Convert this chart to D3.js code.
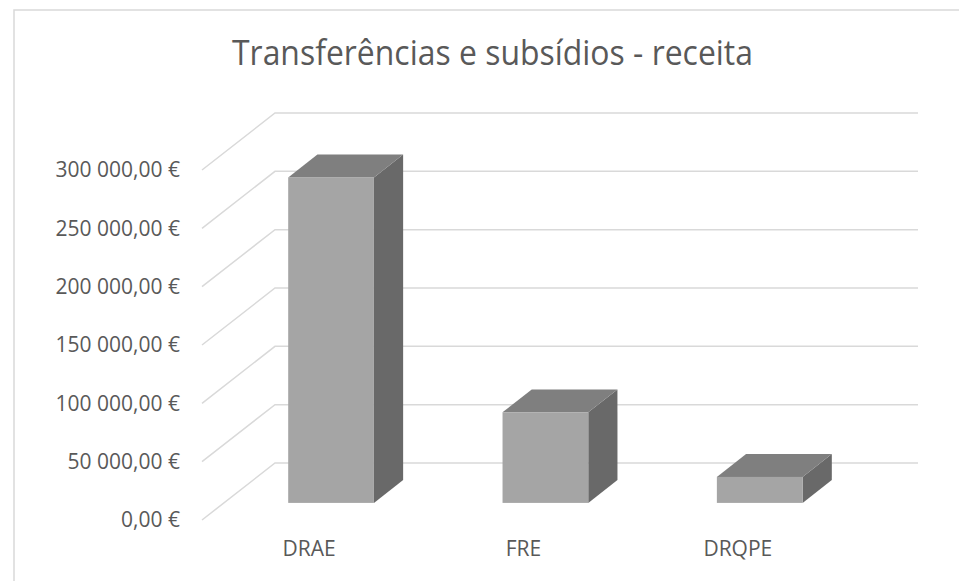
<!DOCTYPE html>
<html>
<head>
<meta charset="utf-8">
<script src="https://cdn.jsdelivr.net/npm/d3@7"></script>
<style>
  html, body { margin: 0; padding: 0; background: #ffffff; }
  svg { display: block; }
</style>
</head>
<body>
<svg id="chart" width="959" height="581"></svg>
<script>
// ---- data ----
const categories = ["DRAE", "FRE", "DRQPE"];
const values = [279000, 77700, 22300];
const yTicks = [0, 50000, 100000, 150000, 200000, 250000, 300000];
const titleText = "Transferências e subsídios - receita";

// ---- layout ----
const W = 959, H = 581;
const svg = d3.select("#chart");
const floorLeft = 202, floorRight = 845;
const y0 = 520, yTop = 170;
const depthDX = 73, depthDY = -57;
const barFrontDepth = 0.3, barDepth = 0.4;

const x = d3.scaleBand().domain(categories).range([floorLeft, floorRight])
  .paddingInner(0.6).paddingOuter(0.3);
const y = d3.scaleLinear().domain([0, 300000]).range([y0, yTop]);

const gridColor = "#d9d9d9";
const textColor = "#595959";

// chart border (only top/left edges visible in the crop)
svg.append("rect").attr("x", 14).attr("y", 10).attr("width", W + 50).attr("height", H + 50)
  .attr("fill", "#fff").attr("stroke", gridColor).attr("stroke-width", 1.5);

// title
svg.append("text")
  .attr("x", 492.5).attr("y", 65)
  .attr("text-anchor", "middle")
  .attr("font-family", "'Open Sans', sans-serif")
  .attr("font-weight", 400)
  .attr("font-size", 34)
  .attr("fill", textColor)
  .attr("textLength", 521)
  .attr("lengthAdjust", "spacingAndGlyphs")
  .text(titleText);

// gridlines: side-wall diagonal + back-wall horizontal
const grid = svg.append("g").attr("fill", "none").attr("stroke", gridColor).attr("stroke-width", 1.5);
yTicks.forEach(t => {
  const fy = y(t);
  grid.append("path").attr("d",
    d3.line()([[floorLeft, fy], [floorLeft + depthDX, fy + depthDY], [floorRight + depthDX, fy + depthDY]]));
});

// y axis labels
const loc = d3.formatLocale({decimal: ",", thousands: " ", grouping: [3], currency: ["", " €"]});
const fmt = loc.format(",.2f");
const yAxis = d3.axisLeft(y).tickValues(yTicks).tickSizeInner(0).tickSizeOuter(0).tickPadding(22)
  .tickFormat(d => fmt(d) + " €");
const gy = svg.append("g").attr("transform", `translate(${floorLeft},0)`).call(yAxis);
gy.select(".domain").remove();
gy.selectAll("text").attr("font-family", "'Open Sans', sans-serif").attr("font-size", 21)
  .attr("fill", textColor);

// bars
const frontColor = "#a5a5a5", topColor = "#7f7f7f", sideColor = "#696969";
categories.forEach((c, i) => {
  const v = values[i];
  const ox = barFrontDepth * depthDX, oy = barFrontDepth * depthDY;
  const bx = barDepth * depthDX, by = barDepth * depthDY;
  const xl = x(c) + ox, xr = x(c) + x.bandwidth() + ox;
  const yb = y(0) + oy, yt = y(v) + oy;
  const g = svg.append("g");
  g.append("path").attr("d", d3.line()([[xr, yb], [xr + bx, yb + by], [xr + bx, yt + by], [xr, yt]]) + "Z")
    .attr("fill", sideColor);
  g.append("path").attr("d", d3.line()([[xl, yt], [xl + bx, yt + by], [xr + bx, yt + by], [xr, yt]]) + "Z")
    .attr("fill", topColor);
  g.append("rect").attr("x", xl).attr("y", yt).attr("width", xr - xl).attr("height", yb - yt)
    .attr("fill", frontColor);
});

// x axis labels (front edge)
const xAxis = d3.axisBottom(x).tickSizeInner(0).tickSizeOuter(0).tickPadding(21);
const gx = svg.append("g").attr("transform", `translate(0,${y0})`).call(xAxis);
gx.select(".domain").remove();
gx.selectAll("text").attr("font-family", "'Open Sans', sans-serif").attr("font-size", 21)
  .attr("fill", textColor);
</script>
</body>
</html>
